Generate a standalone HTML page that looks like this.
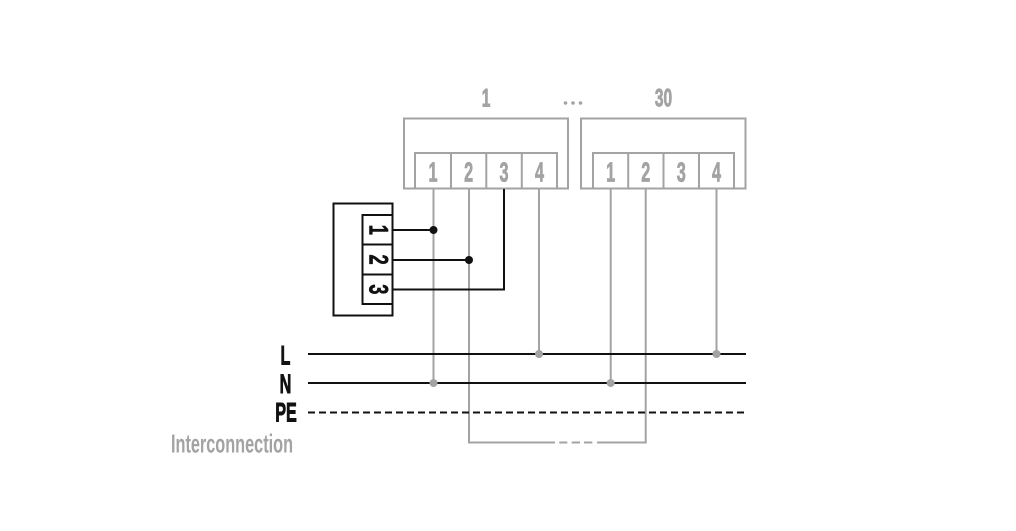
<!DOCTYPE html>
<html>
<head>
<meta charset="utf-8">
<style>
  html, body { margin: 0; padding: 0; background: #ffffff; }
  body { width: 1016px; height: 531px; overflow: hidden; }
  svg { display: block; }
  text { font-family: "Liberation Sans", "DejaVu Sans", sans-serif; }
</style>
</head>
<body>
<svg width="1016" height="531" viewBox="0 0 1016 531" xmlns="http://www.w3.org/2000/svg">
  <rect x="0" y="0" width="1016" height="531" fill="#ffffff"/>

  <!-- Top labels -->
  <text transform="translate(486,106.5) scale(0.62,1)" font-size="25" font-weight="bold" fill="#a3a3a3" stroke="#a3a3a3" stroke-width="0.9" text-anchor="middle">1</text>
  <circle cx="565.5" cy="103" r="1.8" fill="#a3a3a3"/>
  <circle cx="573" cy="103" r="1.8" fill="#a3a3a3"/>
  <circle cx="580.5" cy="103" r="1.8" fill="#a3a3a3"/>
  <text transform="translate(663.5,106.5) scale(0.62,1)" font-size="25" font-weight="bold" fill="#a3a3a3" stroke="#a3a3a3" stroke-width="0.9" text-anchor="middle">30</text>

  <!-- Device boxes -->
  <g fill="none" stroke="#a3a3a3" stroke-width="2">
    <rect x="404" y="118.5" width="164" height="70"/>
    <rect x="415" y="153" width="142" height="35.5"/>
    <line x1="451" y1="153" x2="451" y2="188.5"/>
    <line x1="486.3" y1="153" x2="486.3" y2="188.5"/>
    <line x1="521.8" y1="153" x2="521.8" y2="188.5"/>

    <rect x="581" y="118.5" width="164.5" height="70"/>
    <rect x="593" y="153" width="141" height="35.5"/>
    <line x1="628.2" y1="153" x2="628.2" y2="188.5"/>
    <line x1="663.5" y1="153" x2="663.5" y2="188.5"/>
    <line x1="699" y1="153" x2="699" y2="188.5"/>
  </g>

  <!-- Terminal numbers -->
  <g font-size="28" font-weight="bold" fill="#a3a3a3" stroke="#a3a3a3" stroke-width="0.8" text-anchor="middle">
    <text transform="translate(433,181.5) scale(0.58,1)">1</text>
    <text transform="translate(468.6,181.5) scale(0.58,1)">2</text>
    <text transform="translate(504,181.5) scale(0.58,1)">3</text>
    <text transform="translate(539.5,181.5) scale(0.58,1)">4</text>
    <text transform="translate(610.6,181.5) scale(0.58,1)">1</text>
    <text transform="translate(645.8,181.5) scale(0.58,1)">2</text>
    <text transform="translate(681.2,181.5) scale(0.58,1)">3</text>
    <text transform="translate(716.5,181.5) scale(0.58,1)">4</text>
  </g>

  <!-- Gray vertical wires -->
  <g stroke="#a3a3a3" stroke-width="2" fill="none">
    <line x1="433.5" y1="189" x2="433.5" y2="383"/>
    <line x1="539" y1="189" x2="539" y2="354"/>
    <line x1="610.7" y1="189" x2="610.7" y2="383"/>
    <line x1="716.5" y1="189" x2="716.5" y2="354"/>
    <!-- interconnection loop -->
    <polyline points="555,442.5 469,442.5 469,189"/>
    <polyline points="597,442.5 645.7,442.5 645.7,189"/>
    <line x1="559.3" y1="442.5" x2="567.3" y2="442.5"/>
    <line x1="571.7" y1="442.5" x2="580" y2="442.5"/>
    <line x1="584" y1="442.5" x2="592.3" y2="442.5"/>
  </g>

  <!-- Bus lines -->
  <g stroke="#111111" stroke-width="2" fill="none">
    <line x1="308" y1="354" x2="746" y2="354"/>
    <line x1="308" y1="383" x2="746" y2="383"/>
    <line x1="308" y1="412.5" x2="746" y2="412.5" stroke-dasharray="7 4"/>
  </g>

  <!-- Gray junction dots -->
  <g fill="#a3a3a3">
    <circle cx="433.5" cy="383" r="4"/>
    <circle cx="539" cy="354" r="4"/>
    <circle cx="610.7" cy="383" r="4"/>
    <circle cx="716.5" cy="354" r="4"/>
  </g>

  <!-- Left control box -->
  <g fill="none" stroke="#111111" stroke-width="2">
    <rect x="333.5" y="203.5" width="59" height="112"/>
    <rect x="362.5" y="215" width="30" height="89"/>
    <line x1="362.5" y1="244.5" x2="392.5" y2="244.5"/>
    <line x1="362.5" y1="274.5" x2="392.5" y2="274.5"/>
    <!-- black wires -->
    <line x1="392.5" y1="230" x2="433.5" y2="230"/>
    <line x1="392.5" y1="260" x2="469" y2="260"/>
    <polyline points="392.5,289.5 504,289.5 504,189"/>
  </g>
  <g fill="#111111">
    <circle cx="433.5" cy="230" r="4"/>
    <circle cx="469" cy="260" r="4"/>
  </g>
  <!-- rotated terminal numbers -->
  <g font-size="27" font-weight="bold" fill="#111111" stroke="#111111" stroke-width="0.6" text-anchor="middle">
    <text transform="translate(369.5,229.8) rotate(90) scale(0.68,1)">1</text>
    <text transform="translate(369.5,259.6) rotate(90) scale(0.68,1)">2</text>
    <text transform="translate(369.5,289.3) rotate(90) scale(0.68,1)">3</text>
  </g>

  <!-- Left labels -->
  <g font-size="27" font-weight="bold" fill="#111111" stroke="#111111" stroke-width="0.9" text-anchor="middle">
    <text transform="translate(285.5,364.5) scale(0.6,1)">L</text>
    <text transform="translate(285.5,393) scale(0.6,1)">N</text>
    <text transform="translate(286,421.5) scale(0.6,1)">PE</text>
  </g>
  <text x="171" y="452.5" font-size="26" font-weight="bold" fill="#a3a3a3" textLength="122" lengthAdjust="spacingAndGlyphs">Interconnection</text>
</svg>
</body>
</html>
